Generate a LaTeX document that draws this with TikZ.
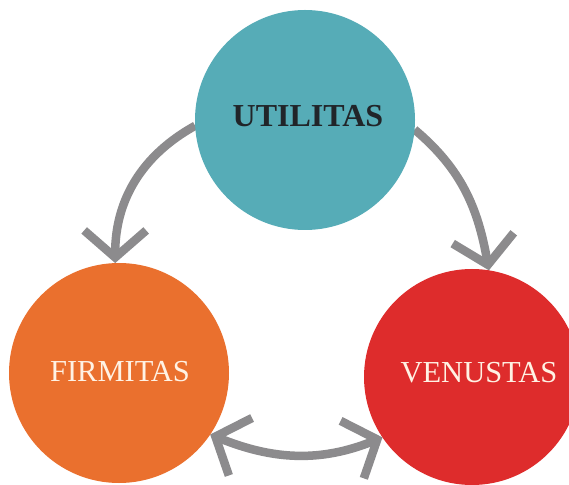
\documentclass[tikz,border=0pt]{standalone}
\usepackage{fontspec}
\setmainfont{Liberation Serif}
\usetikzlibrary{arrows.meta}
\definecolor{utilcolor}{RGB}{86,172,183}
\definecolor{firmcolor}{RGB}{234,112,46}
\definecolor{venucolor}{RGB}{222,44,44}
\definecolor{arrowgray}{RGB}{140,139,141}
\definecolor{darktext}{RGB}{33,37,41}
\definecolor{creamtext}{RGB}{255,242,228}
\tikzset{
  disc/.style={circle, inner sep=0pt, outer sep=0pt, minimum size=#1},
  disctext/.style={inner sep=0pt, font=\fontsize{30.5}{36}\selectfont},
  flow/.style={draw=arrowgray, line width=8.5pt},
  >={Straight Barb[length=27pt,width=62pt,sharp]},
}
\begin{document}
\begin{tikzpicture}[x=1pt,y=1pt]
    \clip (0,0) rectangle (569,484);
    \fill[white] (0,0) rectangle (569,484);

    % Arrows
    \coordinate (u0) at (305,364);
    \coordinate (f0) at (119,111);
    \coordinate (v0) at (472,107);
    \node[disc=220pt] (utilitas) at (u0) {};
    \node[disc=220pt] (firmitas) at (f0) {};
    \node[disc=216pt] (venustas) at (v0) {};
    \draw[flow, ->] (utilitas.183) to[out=209,in=90] (firmitas.92);
    \draw[flow, ->] (utilitas.355) to[out=-40,in=100] (venustas.81);
    \draw[flow, <->] (firmitas.-34) to[out=-22,in=202] (venustas.214);

    % Circles
    \fill[utilcolor] (utilitas) circle (110);
    \fill[firmcolor] (firmitas) circle (110);
    \fill[venucolor] (venustas) circle (108);

    % Text Node
    \node[disctext, text=darktext, font=\fontsize{32}{38}\selectfont\bfseries] (utilitas-text) at ([shift={(3,4)}]utilitas.center) {UTILITAS};
    % Text Node
    \node[disctext, text=creamtext] (firmitas-text) at ([shift={(1,1)}]firmitas.center) {FIRMITAS};
    % Text Node
    \node[disctext, text=creamtext] (venustas-text) at ([shift={(7,4)}]venustas.center) {VENUSTAS};
\end{tikzpicture}
\end{document}
